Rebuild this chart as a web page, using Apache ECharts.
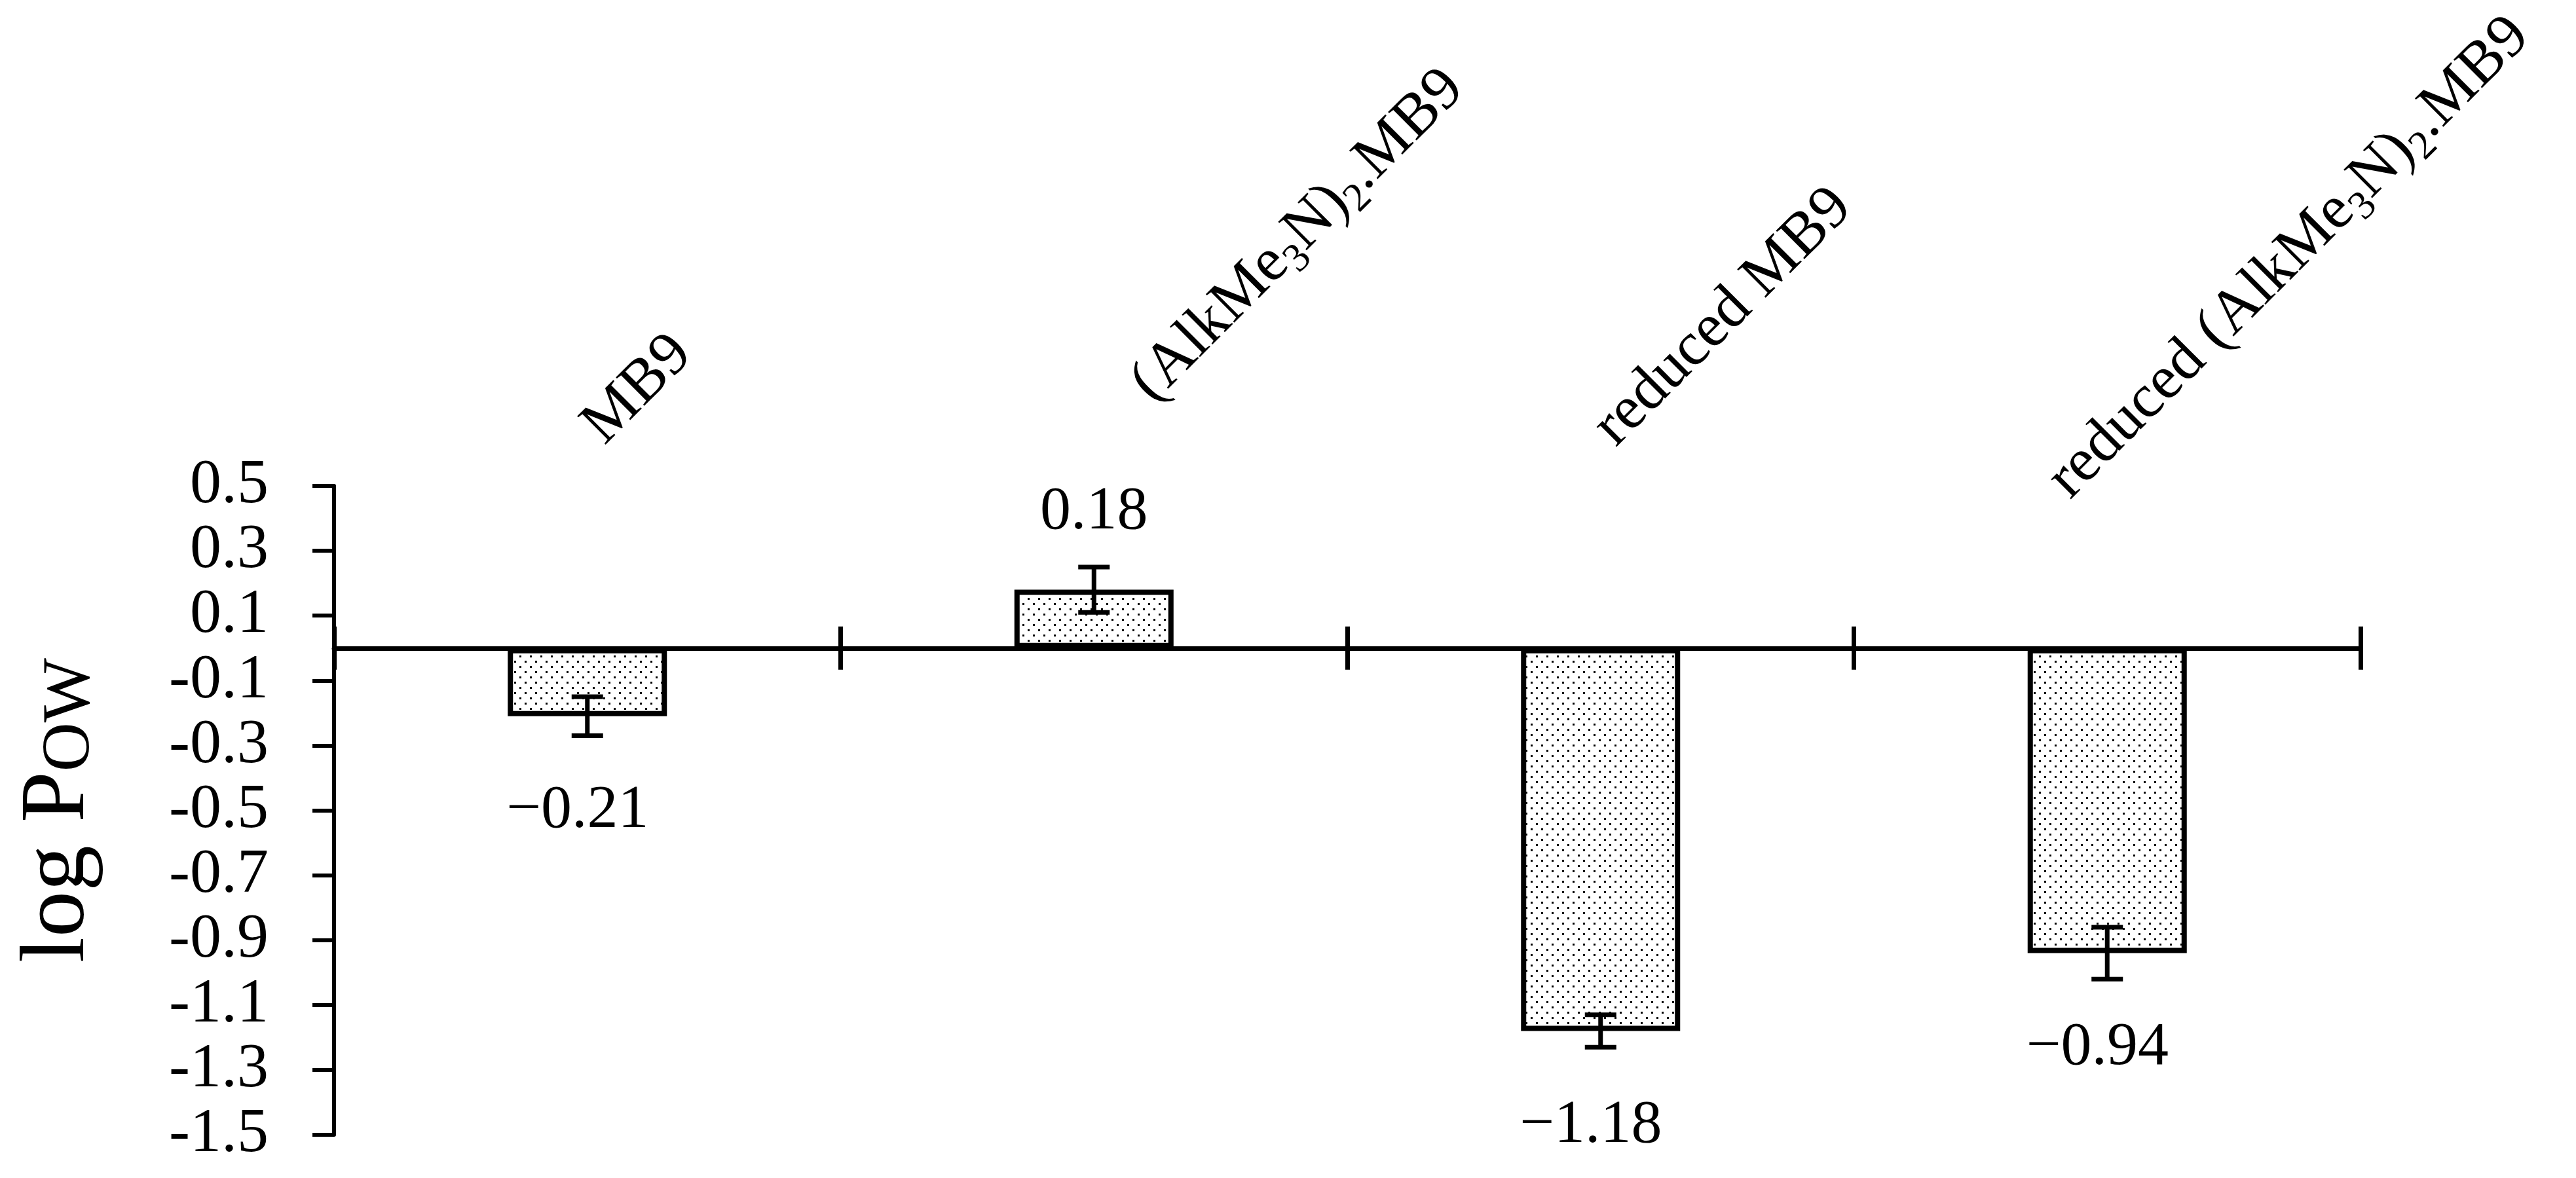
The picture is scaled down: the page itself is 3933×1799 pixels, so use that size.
<!DOCTYPE html>
<html>
<head>
<meta charset="utf-8">
<script src="https://cdn.jsdelivr.net/npm/echarts@6/dist/echarts.min.js"></script>
<style>
html, body { margin: 0; padding: 0; background: #fff; }
#main { width: 3933px; height: 1799px; }
</style>
</head>
<body>
<div id="main"></div>
<script>
// data
var categories = ['MB9', '(AlkMe3N)2.MB9', 'reduced MB9', 'reduced (AlkMe3N)2.MB9'];
var logPow = [-0.21, 0.18, -1.18, -0.94];
var errors = [0.06, 0.07, 0.05, 0.08];
var yTickLabels = ['-1.5', '-1.3', '-1.1', '-0.9', '-0.7', '-0.5', '-0.3', '-0.1', '0.1', '0.3', '0.5'];

// shift of each rotated category label along its own direction (px)
var labelShift = [137, 228, 133, 20];

var serif = '"Liberation Serif", "DejaVu Serif", serif';

// dotted fill like the original bars
var pat = document.createElement('canvas');
pat.width = 16;
pat.height = 16;
var g = pat.getContext('2d');
g.fillStyle = '#fff';
g.fillRect(0, 0, 16, 16);
g.fillStyle = '#000';
g.fillRect(1, 1, 3, 3);
g.fillRect(9, 9, 3, 3);

function richName(s) {
    return s.replace(/Me3N\)2/g, 'Me{sub|3}N){sub|2}');
}

function fmtValue(v) {
    return (v < 0 ? '\u2212' : '') + Math.abs(v).toFixed(2);
}

var gapRich = {};
labelShift.forEach(function (w, i) {
    gapRich['g' + i] = { width: w, fontSize: 94, fontFamily: serif };
});
gapRich.t = { fontSize: 94, fontFamily: serif, color: '#000', lineHeight: 112 };
gapRich.sub = { fontSize: 62, fontFamily: serif, color: '#000', verticalAlign: 'bottom', lineHeight: 62 };

var myChart = echarts.init(document.getElementById('main'));
var option = {
    backgroundColor: '#fff',
    animation: false,
    grid: {
        left: 510,
        right: 329,
        top: 742,
        bottom: 66,
        containLabel: false,
        outerBoundsMode: 'none'
    },
    xAxis: [
        {
            type: 'category',
            data: categories,
            position: 'bottom',
            axisLine: { onZero: true, onZeroAxisIndex: 1, lineStyle: { color: '#000', width: 7 } },
            axisTick: { show: true, inside: false, length: 33, lineStyle: { color: '#000', width: 7 } },
            axisLabel: { show: false },
            splitLine: { show: false }
        },
        {
            type: 'category',
            data: categories,
            position: 'bottom',
            axisLine: { show: false, onZero: true, onZeroAxisIndex: 1 },
            axisTick: { show: true, inside: true, length: 33, lineStyle: { color: '#000', width: 7 } },
            axisLabel: { show: false },
            splitLine: { show: false }
        },
        {
            type: 'category',
            data: categories,
            position: 'top',
            axisLine: { show: false, onZero: false },
            axisTick: { show: false },
            splitLine: { show: false },
            axisLabel: {
                show: true,
                interval: 0,
                rotate: -45,
                margin: 70,
                padding: [0, 0, 0, -125],
                formatter: function (value, index) {
                    return '{g' + index + '| }{t|' + richName(value).replace(/\{sub\|(\d)\}/g, '}{sub|$1}{t|') + '}';
                },
                rich: gapRich
            }
        }
    ],
    yAxis: [
        {
            type: 'category',
            data: yTickLabels,
            boundaryGap: false,
            position: 'left',
            axisLine: { show: true, onZero: false, lineStyle: { color: '#000', width: 6 } },
            axisTick: { show: true, length: 33, lineStyle: { color: '#000', width: 6 } },
            axisLabel: {
                interval: 0,
                margin: 100,
                color: '#000',
                fontSize: 96,
                fontFamily: serif
            },
            splitLine: { show: false },
            name: 'log P{sub|OW}',
            nameLocation: 'middle',
            nameRotate: 90,
            nameGap: 350,
            nameTextStyle: {
                fontSize: 140,
                fontFamily: serif,
                color: '#000',
                rich: {
                    sub: { fontSize: 104, fontFamily: serif, color: '#000', verticalAlign: 'bottom', lineHeight: 84 }
                }
            }
        },
        {
            type: 'value',
            min: -1.5,
            max: 0.5,
            show: false,
            splitLine: { show: false }
        }
    ],
    series: [
        {
            type: 'bar',
            xAxisIndex: 0,
            yAxisIndex: 1,
            data: logPow,
            barWidth: 243,
            itemStyle: {
                color: { image: pat, repeat: 'repeat' },
                borderColor: '#000',
                borderWidth: 8
            }
        },
        {
            type: 'custom',
            xAxisIndex: 0,
            yAxisIndex: 1,
            z: 5,
            data: logPow.map(function (v, i) { return [i, v, errors[i]]; }),
            renderItem: function (params, api) {
                var i = api.value(0);
                var v = api.value(1);
                var e = api.value(2);
                var hi = api.coord([i, v + e]);
                var lo = api.coord([i, v - e]);
                var end = api.coord([i, v]);
                var half = 24;
                var ls = { stroke: '#000', lineWidth: 7 };
                return {
                    type: 'group',
                    children: [
                        { type: 'line', shape: { x1: hi[0], y1: hi[1], x2: lo[0], y2: lo[1] }, style: ls },
                        { type: 'line', shape: { x1: hi[0] - half, y1: hi[1], x2: hi[0] + half, y2: hi[1] }, style: ls },
                        { type: 'line', shape: { x1: lo[0] - half, y1: lo[1], x2: lo[0] + half, y2: lo[1] }, style: ls },
                        {
                            type: 'text',
                            x: end[0] + (v >= 0 ? 0 : -15),
                            y: end[1] + (v >= 0 ? -118 : 145),
                            style: {
                                text: fmtValue(v),
                                font: '94px ' + serif,
                                fill: '#000',
                                align: 'center',
                                verticalAlign: 'middle'
                            }
                        }
                    ]
                };
            }
        }
    ]
};

myChart.setOption(option);
</script>
</body>
</html>
